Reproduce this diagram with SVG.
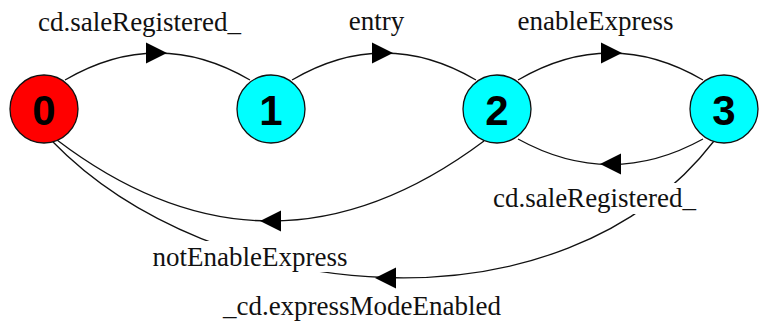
<svg xmlns="http://www.w3.org/2000/svg" xmlns:xlink="http://www.w3.org/1999/xlink" width="759" height="327" viewBox="0 0 759 327">
<style>
  .edge { fill: none; stroke: #111; stroke-width: 1.3; }
  .arrow { fill: #000; }
  .lbl { font-family: "Liberation Serif", "Times New Roman", serif; font-size: 27px; fill: #111; text-anchor: middle; }
  .lblbg { fill: #fff; }
  .node circle { stroke: #111; stroke-width: 1.3; }
  .init circle { fill: #ff0000; }
  .state circle { fill: #00ffff; }
  .node text { font-family: "Liberation Sans", Arial, sans-serif; font-weight: bold; font-size: 42px; fill: #000; text-anchor: middle; }
</style>
<defs>
  <path id="ah" d="M0,0 L-21,-10.5 L-21,10.5 Z"/>
</defs>
<rect width="759" height="327" fill="#fff"/>
<g id="connectors">
  <!-- 0 -> 1 -->
  <path class="edge" d="M65,80 Q157.5,26 250,80"/>
  <use href="#ah" class="arrow" transform="translate(167,53)"/>
  <!-- 1 -> 2 -->
  <path class="edge" d="M292,80 Q384,26 476,80"/>
  <use href="#ah" class="arrow" transform="translate(393,53)"/>
  <!-- 2 -> 3 -->
  <path class="edge" d="M518,80 Q610.5,26 703,80"/>
  <use href="#ah" class="arrow" transform="translate(622,53)"/>
  <!-- 3 -> 2 -->
  <path class="edge" d="M703,139 Q610.5,190 518,139"/>
  <use href="#ah" class="arrow" transform="translate(600,164) rotate(180)"/>
  <!-- 2 -> 0 -->
  <path class="edge" d="M484,141 Q269.5,301.5 57,140"/>
  <use href="#ah" class="arrow" transform="translate(260,221) rotate(180)"/>
  <!-- 3 -> 0 -->
  <path class="edge" d="M714,141 C560,340 212,306 52,141"/>
  <use href="#ah" class="arrow" transform="translate(375,278) rotate(180)"/>
</g>
<g id="labels">
  <rect class="lblbg" x="35" y="8" width="209" height="31"/>
  <text class="lbl" x="139.5" y="31">cd.saleRegistered_</text>
  <rect class="lblbg" x="348" y="8" width="57" height="31"/>
  <text class="lbl" x="376.5" y="30">entry</text>
  <rect class="lblbg" x="516" y="8" width="159" height="31"/>
  <text class="lbl" x="595.5" y="30">enableExpress</text>
  <rect class="lblbg" x="490" y="183" width="209" height="31"/>
  <text class="lbl" x="594.5" y="207">cd.saleRegistered_</text>
  <rect class="lblbg" x="150" y="241" width="200" height="31"/>
  <text class="lbl" x="250" y="266">notEnableExpress</text>
  <rect class="lblbg" x="220" y="291" width="284" height="31"/>
  <text class="lbl" x="362" y="315">_cd.expressModeEnabled</text>
</g>
<g id="node0" class="node init">
  <circle cx="44" cy="109" r="34"/>
  <text x="44" y="125">0</text>
</g>
<g id="node1" class="node state">
  <circle cx="271" cy="109" r="34"/>
  <text x="271" y="125">1</text>
</g>
<g id="node2" class="node state">
  <circle cx="497" cy="109" r="34"/>
  <text x="497" y="125">2</text>
</g>
<g id="node3" class="node state">
  <circle cx="724" cy="109" r="34"/>
  <text x="724" y="125">3</text>
</g>
</svg>
